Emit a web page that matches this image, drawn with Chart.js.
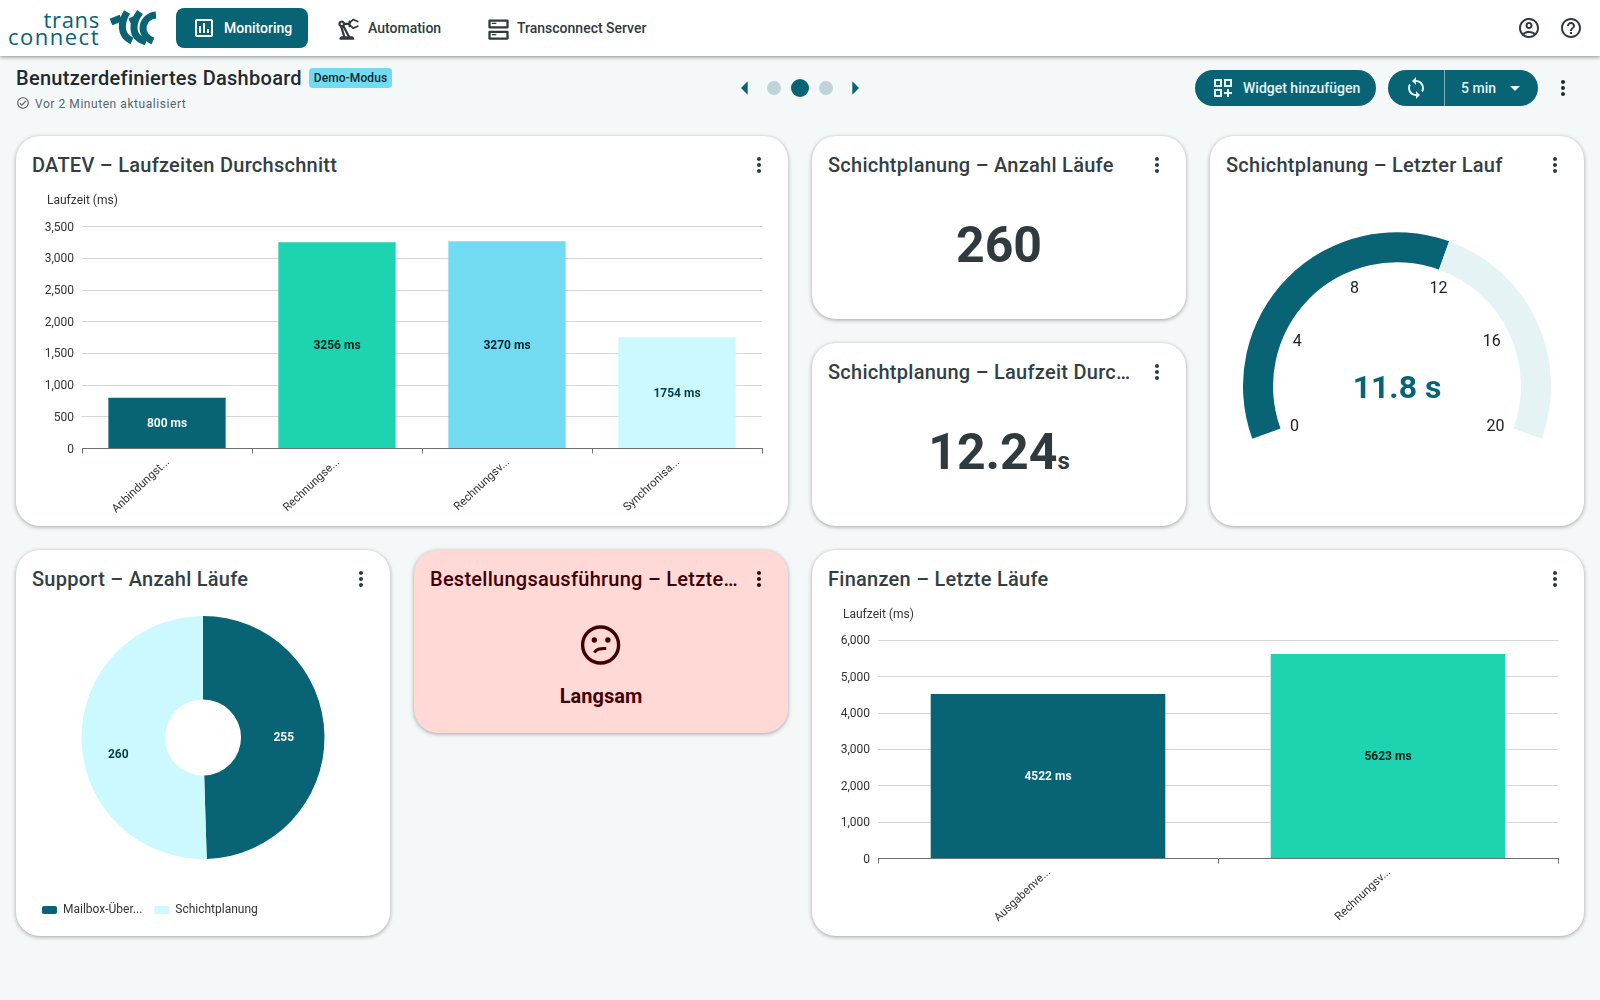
<!DOCTYPE html>
<html lang="de">
<head>
<meta charset="utf-8">
<title>Benutzerdefiniertes Dashboard</title>
<script src="https://cdn.jsdelivr.net/npm/chart.js@4"></script>
<style>
  html, body { margin: 0; padding: 0; }
  body { width: 1600px; height: 1000px; overflow: hidden; position: relative; background: #f4f8f9; font-family: Roboto, sans-serif; color: #2f3a3f; }
  .abs { position: absolute; white-space: nowrap; }
  canvas { position: absolute; }
  #topbar { position: absolute; left: 0; top: 0; width: 1600px; height: 56px; background: #fff; box-shadow: 0 1px 4px rgba(0,0,0,.45); }
  .nav { font-size: 14px; font-weight: 500; line-height: 20px; top: 18px; }
  .btn { background: #086375; color: #e6f4f6; font-size: 14px; font-weight: 500; }
  .card { position: absolute; background: #fff; border-radius: 24px; box-shadow: 0 1px 4px rgba(0,0,0,.35); }
  .card .title { position: absolute; left: 16px; top: 0; line-height: 58px; font-size: 20px; font-weight: 500; letter-spacing: .26px; white-space: nowrap; color: #333f44; }
  .kpi { position: absolute; left: 0; width: 100%; text-align: center; font-weight: 700; font-size: 50px; line-height: 60px; color: #2f3a3f; }
  .kpi small { font-size: 24px; font-weight: 700; }
</style>
</head>
<body>
<div id="topbar"></div>
<div class="abs" style="right:1500px;top:8px;font:400 22px/22px 'Open Sans';color:#086375;letter-spacing:.7px;">trans</div>
<div class="abs" style="right:1500px;top:25px;font:400 22px/22px 'Open Sans';color:#086375;letter-spacing:1.5px;">connect</div>
<svg class="abs" style="left:108px;top:8px;" width="52" height="40" viewBox="0 0 52 40" fill="none" stroke="#086375" stroke-width="7">
  <path d="M3 14 L13 10"/><path d="M19 4 C13 14 11 27 24 33"/>
  <path d="M22 14 L28 11"/><path d="M32 4 C24 15 22 29 38 34"/>
  <path d="M48 7 C34 8 29 26 45 33"/>
</svg>

<div class="abs" style="left:176px;top:8px;width:132px;height:40px;background:#086375;border-radius:8px;"></div>
<div class="abs nav" style="left:224px;color:#fff;">Monitoring</div>
<div class="abs nav" style="left:368px;">Automation</div>
<div class="abs nav" style="left:517px;">Transconnect Server</div>

<div class="abs" style="left:16px;top:66px;font-size:20px;font-weight:500;line-height:24px;letter-spacing:.28px;color:#1f2a2e;">Benutzerdefiniertes Dashboard</div>
<div class="abs" style="left:309px;top:68px;width:83px;height:20px;background:#72dbf2;border-radius:4px;text-align:center;font-size:12px;font-weight:500;line-height:20px;letter-spacing:.1px;color:#0c2a30;">Demo-Modus</div>
<div class="abs" style="left:35px;top:96px;font-size:12px;line-height:16px;letter-spacing:.56px;color:#596469;">Vor 2 Minuten aktualisiert</div>

<div class="abs" style="left:767px;top:81px;width:14px;height:14px;border-radius:50%;background:#bfd3d9;"></div>
<div class="abs" style="left:791px;top:79px;width:18px;height:18px;border-radius:50%;background:#086375;"></div>
<div class="abs" style="left:819px;top:81px;width:14px;height:14px;border-radius:50%;background:#bfd3d9;"></div>

<div class="abs btn" style="left:1195px;top:70px;width:181px;height:36px;border-radius:18px;"></div>
<div class="abs btn" style="left:1243px;top:78px;line-height:20px;background:none;">Widget hinzufügen</div>
<div class="abs btn" style="left:1388px;top:70px;width:150px;height:36px;border-radius:18px;"></div>
<div class="abs" style="left:1444px;top:70px;width:1px;height:36px;background:#7fb0ba;"></div>
<div class="abs btn" style="left:1461px;top:78px;line-height:20px;background:none;">5 min</div>

<div class="card" style="left:16px;top:136px;width:772px;height:390px;"><div class="title">DATEV – Laufzeiten Durchschnitt</div></div>
<div class="card" style="left:812px;top:136px;width:374px;height:183px;"><div class="title">Schichtplanung – Anzahl Läufe</div><div class="kpi" id="kpiRuns" style="top:79px;"></div></div>
<div class="card" style="left:812px;top:343px;width:374px;height:183px;"><div class="title">Schichtplanung – Laufzeit Durc…</div><div class="kpi" id="kpiAvg" style="top:79px;"></div></div>
<div class="card" style="left:1210px;top:136px;width:374px;height:390px;"><div class="title">Schichtplanung – Letzter Lauf</div></div>
<div class="card" style="left:16px;top:550px;width:374px;height:386px;"><div class="title">Support – Anzahl Läufe</div></div>
<div class="card" style="left:414px;top:550px;width:374px;height:183px;background:#ffd9d6;color:#410002;"><div class="title" style="color:#410002;">Bestellungsausführung – Letzte…</div>
  <div style="position:absolute;left:0;width:100%;top:132px;text-align:center;font-size:20px;font-weight:700;line-height:28px;">Langsam</div>
</div>
<div class="card" style="left:812px;top:550px;width:772px;height:386px;"><div class="title">Finanzen – Letzte Läufe</div></div>

<svg class="abs" style="left:570px;top:615px;" width="60" height="60" viewBox="0 0 60 60" fill="none" stroke="#410002">
  <circle cx="30.6" cy="30" r="18" stroke-width="3.4"/>
  <circle cx="24.3" cy="25" r="2.7" fill="#410002" stroke="none"/><circle cx="37.9" cy="25" r="2.7" fill="#410002" stroke="none"/>
  <path d="M24.3 37.5 C27.3 33 31.3 33.5 36.3 33.5" stroke-width="3"/>
</svg>

<canvas id="datevChart" style="left:32px;top:190px;" width="740" height="330"></canvas>
<canvas id="gaugeChart" style="left:1243px;top:232px;" width="308" height="207"></canvas>
<canvas id="supportChart" style="left:30px;top:583px;" width="346" height="343"></canvas>
<canvas id="financeChart" style="left:828px;top:604px;" width="740" height="328"></canvas>

<script>
// Values
const datevLabels = ['Anbindungst...', 'Rechnungse...', 'Rechnungsv...', 'Synchronisa...'];
const datevValues = [800, 3256, 3270, 1754];
const datevTicks = { max: 3500, step: 500 };

const financeLabels = ['Ausgabenve...', 'Rechnungsv...'];
const financeValues = [4522, 5623];
const financeTicks = { max: 6000, step: 1000 };

const supportLabels = ['Mailbox-Über...', 'Schichtplanung'];
const supportValues = [255, 260];

const gaugeValue = 11.8;
const gaugeMax = 20;
const gaugeTicks = [0, 4, 8, 12, 16, 20];

const runsValue = 260;
const avgValue = 12.24;

const PALETTE = ['#086375', '#1dd3b0', '#72dbf2', '#ccf9ff'];
const LABEL_COLORS = { '#086375': '#f2fbfc', '#1dd3b0': '#00201a', '#72dbf2': '#00222b', '#ccf9ff': '#063f4b' };

Chart.defaults.font.family = 'Roboto';
Chart.defaults.font.size = 12;
Chart.defaults.color = '#333';
Chart.defaults.animation = false;

document.getElementById('kpiRuns').textContent = runsValue;
document.getElementById('kpiAvg').innerHTML = avgValue + '<small>s</small>';

// Labels in the middle of each bar / slice
const valueLabels = {
    id: 'valueLabels',
    afterDatasetsDraw(chart, args, opts) {
        const ctx = chart.ctx;
        const ds = chart.data.datasets[0];
        ctx.save();
        ctx.font = 'bold 12px Roboto';
        ctx.textAlign = 'center';
        ctx.textBaseline = 'middle';
        chart.getDatasetMeta(0).data.forEach((el, i) => {
            const p = el.getCenterPoint();
            const shift = (opts.shift && opts.shift[i]) || [0, 1];
            ctx.fillStyle = LABEL_COLORS[ds.backgroundColor[i]];
            ctx.fillText(ds.data[i] + (opts.unit || ''), p.x + shift[0], p.y + shift[1]);
        });
        ctx.restore();
    }
};

// "Laufzeit (ms)" above the value axis
const axisName = {
    id: 'axisName',
    afterDraw(chart, args, opts) {
        const ctx = chart.ctx;
        ctx.save();
        ctx.font = '12px Roboto';
        ctx.fillStyle = '#333';
        ctx.textBaseline = 'middle';
        ctx.fillText(opts.text, chart.chartArea.left - 35, chart.chartArea.top - 25.5);
        ctx.restore();
    }
};

function createBarChart(id, labels, values, ticks, topPadding, xHeight) {
    const ctx = document.getElementById(id).getContext('2d');
    return new Chart(ctx, {
        type: 'bar',
        data: {
            labels: labels,
            datasets: [{
                data: values,
                backgroundColor: PALETTE.slice(0, values.length),
                barPercentage: 1,
                categoryPercentage: 0.69
            }]
        },
        options: {
            responsive: false,
            layout: { padding: { top: topPadding, right: 10, left: 0, bottom: 0 } },
            plugins: {
                legend: { display: false },
                tooltip: { enabled: false },
                valueLabels: { unit: ' ms' },
                axisName: { text: 'Laufzeit (ms)' }
            },
            scales: {
                x: {
                    afterFit: s => { s.height = xHeight; },
                    border: { color: '#6e7079' },
                    grid: { drawOnChartArea: false, tickColor: '#6e7079', tickLength: 5 },
                    ticks: { color: '#333', font: { size: 11.5 }, minRotation: 43, maxRotation: 43, autoSkip: false, padding: 2, labelOffset: 1 }
                },
                y: {
                    afterFit: s => { s.width = 50; },
                    min: 0,
                    max: ticks.max,
                    border: { display: false },
                    grid: { color: '#d6d6d6', drawTicks: false },
                    ticks: { color: '#333', stepSize: ticks.step, padding: 8, labelOffset: 1, callback: v => v.toLocaleString('en-US') }
                }
            }
        },
        plugins: [valueLabels, axisName]
    });
}

createBarChart('datevChart', datevLabels, datevValues, datevTicks, 36.7, 71.5);
createBarChart('financeChart', financeLabels, financeValues, financeTicks, 36.3, 73.5);

new Chart(document.getElementById('supportChart').getContext('2d'), {
    type: 'doughnut',
    data: {
        labels: supportLabels,
        datasets: [{
            data: supportValues,
            backgroundColor: [PALETTE[0], PALETTE[3]],
            borderWidth: 0,
            radius: 121.5,
            cutout: '31.3%'
        }]
    },
    options: {
        responsive: false,
        plugins: {
            tooltip: { enabled: false },
            valueLabels: { shift: [[1, 2], [-5, 16.5]] },
            legend: {
                position: 'bottom',
                align: 'start',
                labels: { boxWidth: 15, boxHeight: 8, padding: 12, useBorderRadius: true, borderRadius: 2, color: '#333' }
            }
        }
    },
    plugins: [valueLabels]
});

// Scale numbers and the big value inside the gauge
const gaugeText = {
    id: 'gaugeText',
    afterDatasetsDraw(chart) {
        const ctx = chart.ctx;
        const arc = chart.getDatasetMeta(0).data[0];
        const rotation = -110, sweep = 220;
        // small per-label corrections, the numbers do not sit on a perfect circle
        const nudge = [[-1, 3.5], [-1, -0.5], [-2, 2.5], [1, 2.5], [-4, -0.5], [-3, 3.5]];
        ctx.save();
        ctx.textAlign = 'center';
        ctx.textBaseline = 'middle';
        ctx.font = '16px Roboto';
        ctx.fillStyle = '#222';
        gaugeTicks.forEach((t, i) => {
            const a = (rotation + sweep * t / gaugeMax - 90) * Math.PI / 180;
            ctx.fillText(t, arc.x + nudge[i][0] + 108 * Math.cos(a), arc.y + nudge[i][1] + 108 * Math.sin(a));
        });
        ctx.font = 'bold 32px Roboto';
        ctx.fillStyle = PALETTE[0];
        ctx.fillText(gaugeValue + ' s', arc.x, arc.y + 4);
        ctx.restore();
    }
};

new Chart(document.getElementById('gaugeChart').getContext('2d'), {
    type: 'doughnut',
    data: {
        datasets: [{
            data: [gaugeValue, gaugeMax - gaugeValue],
            backgroundColor: [PALETTE[0], '#e6f3f5'],
            borderWidth: 0
        }]
    },
    options: {
        responsive: false,
        rotation: -110,
        circumference: 220,
        cutout: '80.5%',
        plugins: { legend: { display: false }, tooltip: { enabled: false } }
    },
    plugins: [gaugeText]
});

// Material icons
const ICONS = {
    chart: 'M9 17H7v-7h2v7zm4 0h-2V7h2v10zm4 0h-2v-4h2v4zm2 2H5V5h14v14zm0-16H5c-1.1 0-2 .9-2 2v14c0 1.1.9 2 2 2h14c1.1 0 2-.9 2-2V5c0-1.1-.9-2-2-2z',
    robot: 'M19.93 8.35l-3.6 1.68L14 7.7V6.3l2.33-2.33 3.6 1.68c.38.18.82.01 1-.36.18-.38.01-.82-.36-1l-3.92-1.83c-.38-.18-.83-.1-1.13.2L13.78 4.4c-.18-.24-.46-.4-.78-.4-.55 0-1 .45-1 1v1H8.82C8.4 4.84 7.3 4 6 4 4.34 4 3 5.34 3 7c0 1.1.6 2.05 1.48 2.58L7.08 18H6c-1.1 0-2 .9-2 2v1h13v-1c0-1.1-.9-2-2-2h-1.62L8.41 8.77c.17-.24.31-.49.41-.77H12v1c0 .55.45 1 1 1 .32 0 .6-.16.78-.4l1.74 1.74c.3.3.75.38 1.13.2l3.92-1.83c.38-.18.54-.62.36-1-.18-.37-.62-.54-1-.36zM6 8c-.55 0-1-.45-1-1s.45-1 1-1 1 .45 1 1-.45 1-1 1zm5.11 10H9.17l-2.46-8h.1l4.3 8z',
    server: 'M19 15v4H5v-4h14m1-2H4c-.55 0-1 .45-1 1v6c0 .55.45 1 1 1h16c.55 0 1-.45 1-1v-6c0-.55-.45-1-1-1zM6 16h4v1H6zM19 5v4H5V5h14m1-2H4c-.55 0-1 .45-1 1v6c0 .55.45 1 1 1h16c.55 0 1-.45 1-1V4c0-.55-.45-1-1-1zM6 6h4v1H6z',
    user: 'M12 2C6.48 2 2 6.48 2 12s4.48 10 10 10 10-4.48 10-10S17.52 2 12 2zM7.35 18.5C8.66 17.56 10.26 17 12 17s3.34.56 4.65 1.5C15.34 19.44 13.74 20 12 20s-3.34-.56-4.65-1.5zm10.79-1.38C16.45 15.8 14.32 15 12 15s-4.45.8-6.14 2.12C4.7 15.73 4 13.95 4 12c0-4.42 3.58-8 8-8s8 3.58 8 8c0 1.95-.7 3.73-1.86 5.12zM12 6c-1.93 0-3.5 1.57-3.5 3.5S10.07 13 12 13s3.5-1.57 3.5-3.5S13.93 6 12 6zm0 5c-.83 0-1.5-.67-1.5-1.5S11.17 8 12 8s1.5.67 1.5 1.5S12.83 11 12 11z',
    help: 'M11 18h2v-2h-2v2zm1-16C6.48 2 2 6.48 2 12s4.48 10 10 10 10-4.48 10-10S17.52 2 12 2zm0 18c-4.41 0-8-3.59-8-8s3.59-8 8-8 8 3.59 8 8-3.59 8-8 8zm0-14c-2.21 0-4 1.79-4 4h2c0-1.1.9-2 2-2s2 .9 2 2c0 2-3 1.75-3 5h2c0-2.25 3-2.5 3-5 0-2.21-1.79-4-4-4z',
    more: 'M12 8c1.1 0 2-.9 2-2s-.9-2-2-2-2 .9-2 2 .9 2 2 2zm0 2c-1.1 0-2 .9-2 2s.9 2 2 2 2-.9 2-2-.9-2-2-2zm0 6c-1.1 0-2 .9-2 2s.9 2 2 2 2-.9 2-2-.9-2-2-2z',
    sync: 'M12 4V1L8 5l4 4V6c3.31 0 6 2.69 6 6 0 1.01-.25 1.97-.7 2.8l1.46 1.46C19.54 15.03 20 13.57 20 12c0-4.42-3.58-8-8-8zm0 14c-3.31 0-6-2.69-6-6 0-1.01.25-1.97.7-2.8L5.24 7.74C4.46 8.97 4 10.43 4 12c0 4.42 3.58 8 8 8v3l4-4-4-4v3z',
    widget: 'M3 11h8V3H3v8zm2-6h4v4H5V5zm8-2v8h8V3h-8zm6 6h-4V5h4v4zM3 21h8v-8H3v8zm2-6h4v4H5v-4zm13-2h-2v3h-3v2h3v3h2v-3h3v-2h-3z',
    drop: 'M7 10l5 5 5-5z',
    left: 'M14 7l-5 5 5 5V7z',
    right: 'M10 17l5-5-5-5v10z',
    check: 'M16.59 7.58L10 14.17l-2.59-2.58L6 13l4 4 8-8zM12 2C6.48 2 2 6.48 2 12s4.48 10 10 10 10-4.48 10-10S17.52 2 12 2zm0 18c-4.42 0-8-3.58-8-8s3.58-8 8-8 8 3.58 8 8-3.58 8-8 8z'
};

function addIcon(name, cx, cy, size, color) {
    const svg = document.createElementNS('http://www.w3.org/2000/svg', 'svg');
    svg.setAttribute('viewBox', '0 0 24 24');
    svg.setAttribute('width', size);
    svg.setAttribute('height', size);
    svg.setAttribute('class', 'abs');
    svg.style.left = (cx - size / 2) + 'px';
    svg.style.top = (cy - size / 2) + 'px';
    const path = document.createElementNS('http://www.w3.org/2000/svg', 'path');
    path.setAttribute('d', ICONS[name]);
    path.setAttribute('fill', color);
    svg.appendChild(path);
    document.body.appendChild(svg);
}

addIcon('chart', 204, 28, 24, '#fff');
addIcon('robot', 348, 29, 27, '#2f3a3f');
addIcon('server', 498, 29, 27, '#2f3a3f');
addIcon('user', 1529, 28, 24, '#2f3a3f');
addIcon('help', 1571, 28, 24, '#2f3a3f');
addIcon('check', 23, 103, 14, '#596469');
addIcon('left', 745, 88, 32, '#086375');
addIcon('right', 855, 88, 32, '#086375');
addIcon('widget', 1223, 88, 24, '#e6f4f6');
addIcon('sync', 1416, 88, 24, '#e6f4f6');
addIcon('drop', 1515, 88, 24, '#e6f4f6');
addIcon('more', 1563, 88, 24, '#1f2a2e');
addIcon('more', 759, 165, 24, '#2f3a3f');
addIcon('more', 1157, 165, 24, '#2f3a3f');
addIcon('more', 1157, 372, 24, '#2f3a3f');
addIcon('more', 1555, 165, 24, '#2f3a3f');
addIcon('more', 361, 579, 24, '#2f3a3f');
addIcon('more', 759, 579, 24, '#410002');
addIcon('more', 1555, 579, 24, '#2f3a3f');
</script>
</body>
</html>
